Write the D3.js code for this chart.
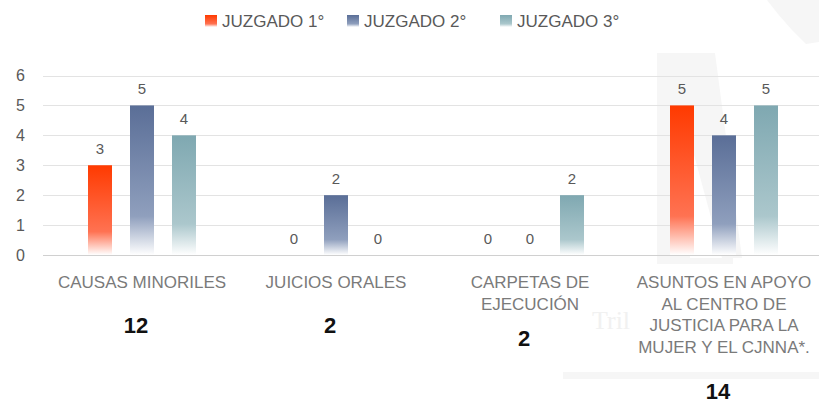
<!DOCTYPE html>
<html>
<head>
<meta charset="utf-8">
<script src="https://cdn.jsdelivr.net/npm/d3@7"></script>
<style>
  html, body { margin: 0; padding: 0; background: #fff; }
  svg { display: block; }
  text { font-family: "Liberation Sans Narrow", "Liberation Sans", "DejaVu Sans Condensed", sans-serif; }
</style>
</head>
<body>
<svg id="chart" width="819" height="405"></svg>
<script>
// chart data
const categories = [
  ['CAUSAS MINORILES'],
  ['JUICIOS ORALES'],
  ['CARPETAS DE', 'EJECUCIÓN'],
  ['ASUNTOS EN APOYO', 'AL CENTRO DE', 'JUSTICIA PARA LA', 'MUJER Y EL CJNNA*.']
]
const series = ['JUZGADO 1°', 'JUZGADO 2°', 'JUZGADO 3°']
const juzgado1 = [3, 0, 0, 5]
const juzgado2 = [5, 2, 0, 4]
const juzgado3 = [4, 0, 2, 5]
const totals = [12, 2, 2, 14]
const yTicks = [0, 1, 2, 3, 4, 5, 6]

const values = [juzgado1, juzgado2, juzgado3]
const colors = [
  ['#ff3a00', '#ff7252'],
  ['#5a6e97', '#8f9fbd'],
  ['#7fa8b1', '#abc7cc']
]

const w = 819
const h = 405
const svg = d3.select('#chart')

// faint watermark in the background
const wm = svg.append('g').attr('fill', '#f6f6f6')
wm.append('path').attr('d', 'M767,0 L819,0 L819,42 L806,44 L792,30 L778,14 Z')
wm.append('path').attr('d', 'M657,53 L715,53 L742,258 L722,258 L690,140 L690,258 L657,258 Z')
wm.append('rect').attr('x', 563).attr('y', 372).attr('width', 256).attr('height', 7)
wm.append('rect').attr('x', 657).attr('y', 258).attr('width', 76).attr('height', 6)
wm.append('text').attr('x', 592).attr('y', 329).attr('fill', '#f1f1f1')
  .style('font-family', 'Liberation Serif, serif').style('font-size', '26px').text('Tril')

// gradients
const defs = svg.append('defs')
colors.forEach((c, i) => {
  const g = defs.append('linearGradient').attr('id', 'grad' + i)
    .attr('x1', 0).attr('y1', 0).attr('x2', 0).attr('y2', 1)
  g.append('stop').attr('offset', '0%').attr('stop-color', c[0])
  g.append('stop').attr('offset', '74%').attr('stop-color', c[1])
  g.append('stop').attr('offset', '100%').attr('stop-color', '#ffffff')
})

const x = d3.scaleBand().domain(d3.range(categories.length)).range([45, 821])
const xs = d3.scaleBand().domain(series).range([-63, 63]).paddingInner(18 / 42).paddingOuter(9 / 42)
const y = d3.scaleLinear().domain([0, 6]).range([255, 75.5])

// grid lines
svg.append('g').selectAll('line').data(yTicks).join('line')
  .attr('x1', 43).attr('x2', w)
  .attr('y1', d => Math.round(y(d)) + 0.5).attr('y2', d => Math.round(y(d)) + 0.5)
  .attr('stroke', d => d === 0 ? '#d0d0d0' : '#e3e3e3').attr('stroke-width', 1)

// y axis labels
const yAxis = d3.axisLeft(y).tickValues(yTicks).tickFormat(d3.format('d')).tickSize(0).tickPadding(0)
svg.append('g').attr('transform', 'translate(25,0)').call(yAxis)
  .call(g => g.select('.domain').remove())
  .selectAll('text').attr('fill', '#595959').style('font-size', '16px')
  .style('font-family', '"Liberation Sans", sans-serif')

// bars
series.forEach((s, si) => {
  const grp = svg.append('g')
  grp.selectAll('rect').data(values[si]).join('rect')
    .attr('x', (d, i) => x(i) + x.bandwidth() / 2 + xs(s))
    .attr('width', xs.bandwidth())
    .attr('y', d => y(d))
    .attr('height', d => y(0) - y(d))
    .attr('fill', 'url(#grad' + si + ')')
  grp.selectAll('text').data(values[si]).join('text')
    .attr('x', (d, i) => x(i) + x.bandwidth() / 2 + xs(s) + xs.bandwidth() / 2)
    .attr('y', d => y(d) - 11)
    .attr('text-anchor', 'middle')
    .attr('fill', '#595959')
    .style('font-family', '"Liberation Sans", sans-serif')
    .style('font-size', '15px')
    .text(d => d)
})

// category labels
const cat = svg.append('g').selectAll('text').data(categories).join('text')
  .attr('text-anchor', 'middle')
  .attr('fill', '#7a7a7a')
  .style('font-size', '17px')
cat.each(function (lines, i) {
  d3.select(this).selectAll('tspan').data(lines).join('tspan')
    .attr('x', x(i) + x.bandwidth() / 2)
    .attr('y', (l, j) => 288 + j * 21.5)
    .text(l => l)
})

// totals under the categories
const totalY = [333, 333, 346, 399]
svg.append('g').selectAll('text').data(totals).join('text')
  .attr('x', (d, i) => x(i) + x.bandwidth() / 2 - 6)
  .attr('y', (d, i) => totalY[i])
  .attr('text-anchor', 'middle')
  .attr('fill', '#111')
  .style('font-weight', 'bold')
  .style('font-size', '22px')
  .text(d => d)

// legend
const legX = [205, 347, 500]
const leg = svg.append('g').selectAll('g').data(series).join('g')
  .attr('transform', (d, i) => `translate(${legX[i]},15)`)
leg.append('rect').attr('width', 12).attr('height', 12)
  .attr('fill', (d, i) => `url(#grad${i})`)
leg.append('text').attr('x', 17).attr('y', 12)
  .attr('fill', '#595959').style('font-size', '17px')
  .text(d => d)
</script>
</body>
</html>
